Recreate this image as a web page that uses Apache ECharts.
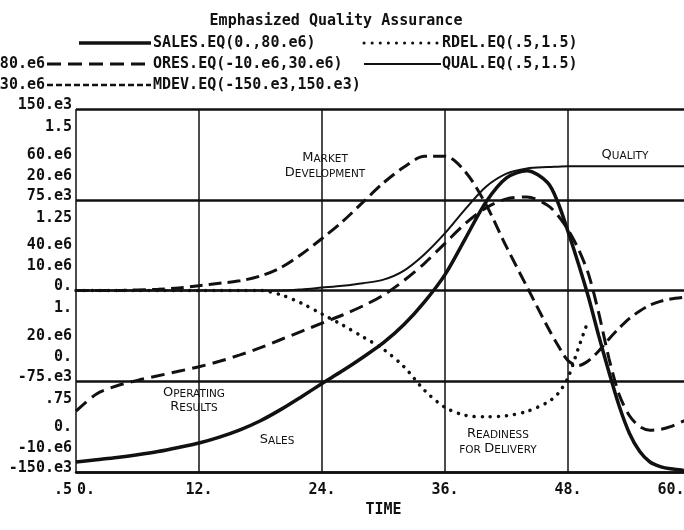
<!DOCTYPE html>
<html lang="en">
<head>
<meta charset="UTF-8">
<title>Emphasized Quality Assurance</title>
<script src="https://cdn.jsdelivr.net/npm/echarts@6/dist/echarts.min.js"></script>
<style>
    html, body { margin: 0; padding: 0; background: #fff; }
    #main { width: 684px; height: 530px; }
</style>
</head>
<body>
<div id="main"></div>
<script type="text/javascript">
    // simulation time (months)
    var time  = [0, 2, 4, 6, 8, 10, 12, 14, 16, 18, 20, 22, 24, 26, 28, 30, 32, 34, 36, 38, 40, 42, 44, 46, 47, 48, 49, 50, 51, 52, 53, 54, 55, 56, 57, 58, 60];

    // SALES  (0 .. 80.e6)
    var sales = [2.2e6, 2.7e6, 3.2e6, 3.8e6, 4.5e6, 5.4e6, 6.4e6, 7.7e6, 9.3e6, 11.3e6, 13.8e6, 16.6e6, 19.5e6, 22.3e6, 25.3e6, 28.5e6, 32.5e6, 37.5e6, 43.5e6, 51.5e6, 59.5e6, 64.8e6, 66.4e6, 63.8e6, 59.5e6, 53e6, 46e6, 38.5e6, 30e6, 22e6, 14.5e6, 8.5e6, 4.5e6, 2.2e6, 1.2e6, 0.7e6, 0.2e6];
    // ORES  operating results (-10.e6 .. 30.e6)
    var ores  = [-3.3e6, -1.4e6, -0.5e6, 0.1e6, 0.6e6, 1.1e6, 1.6e6, 2.2e6, 2.9e6, 3.7e6, 4.6e6, 5.5e6, 6.4e6, 7.3e6, 8.3e6, 9.5e6, 11.1e6, 13e6, 15.2e6, 17.4e6, 19.1e6, 20.1e6, 20.3e6, 19.4e6, 18.3e6, 16.7e6, 14.6e6, 11.8e6, 7.5e6, 2.5e6, -1.5e6, -3.8e6, -5e6, -5.4e6, -5.3e6, -5e6, -4e6];
    // MDEV  market development (-150.e3 .. 150.e3)
    var mdev  = [0, 0, 0, 0.5e3, 1e3, 2e3, 4e3, 6e3, 8e3, 12e3, 19e3, 30e3, 43e3, 57e3, 73e3, 89e3, 102e3, 111e3, 111e3, 98e3, 71e3, 36e3, 3e3, -30e3, -45e3, -58e3, -62e3, -58e3, -50e3, -40e3, -31e3, -23e3, -17e3, -12e3, -9e3, -7e3, -5e3];
    // RDEL  readiness for delivery (.5 .. 1.5), lost behind the falling curves after ~50
    var rdel  = [1, 1, 1, 1, 1, 1, 1, 1, 1, 1, 0.988, 0.965, 0.935, 0.905, 0.872, 0.838, 0.79, 0.725, 0.678, 0.656, 0.652, 0.655, 0.667, 0.692, 0.715, 0.76, 0.84, 0.92, null, null, null, null, null, null, null, null, null];
    // QUAL  quality (.5 .. 1.5)
    var qual  = [1, 1, 1, 1, 1, 1, 1, 1, 1, 1, 1, 1.003, 1.008, 1.013, 1.02, 1.03, 1.055, 1.1, 1.158, 1.225, 1.286, 1.322, 1.336, 1.34, 1.341, 1.342, 1.342, 1.342, 1.342, 1.342, 1.342, 1.342, 1.342, 1.342, 1.342, 1.342, 1.342];

    // tick labels, bottom to top
    var timeTicks  = ['0.', '12.', '24.', '36.', '48.', '60.'];
    var salesTicks = ['0.', '20.e6', '40.e6', '60.e6', '80.e6'];
    var oresTicks  = ['-10.e6', '0.', '10.e6', '20.e6', '30.e6'];
    var mdevTicks  = ['-150.e3', '-75.e3', '0.', '75.e3', '150.e3'];
    var qualTicks  = ['.5', '.75', '1.', '1.25', '1.5'];

    var INK = '#111';
    var MONO = '"DejaVu Sans Mono", "Liberation Mono", monospace';

    function pairs(ys) {
        return time.map(function (t, i) { return [t, ys[i]]; });
    }

    // one stacked label column per scale.
    //   valign 'bottom' + trailing blank line  -> label sits above the grid line
    //   valign 'top' + leading blank line      -> label sits below it
    // lh (line height) sets how far; topShift moves the top label left beside the key
    function yAxis(min, max, interval, ticks, valign, lh, topShift) {
        var before = valign === 'top' ? '\n' : '';
        var after = valign === 'bottom' && lh > 10 ? '\n' : '';
        return {
            type: 'value', position: 'left', offset: 0,
            min: min, max: max, interval: interval,
            axisLine: { show: false },
            axisTick: { show: false },
            splitLine: { show: false },
            axisLabel: {
                margin: 4,
                color: INK,
                fontFamily: MONO,
                fontWeight: 'bold',
                fontSize: 15,
                lineHeight: lh,
                verticalAlign: valign,
                hideOverlap: false,
                showMinLabel: true,
                showMaxLabel: true,
                formatter: function (v, i) {
                    var s = ticks[i];
                    if (topShift && i === ticks.length - 1) s = '{t|' + s + '}';
                    return before + s + after;
                },
                rich: {
                    t: { color: INK, fontFamily: MONO, fontWeight: 'bold', fontSize: 15, lineHeight: lh,
                         padding: [0, topShift || 0, 0, 0] }
                }
            }
        };
    }

    // small caps labels drawn on the plot
    function caps(x, y, str) {
        return {
            type: 'text', x: x, y: y, silent: true,
            style: {
                text: str,
                align: 'center', verticalAlign: 'middle',
                fill: INK,
                rich: {
                    b: { fontFamily: 'DejaVu Sans', fontSize: 13, fill: INK, verticalAlign: 'bottom' },
                    s: { fontFamily: 'DejaVu Sans', fontSize: 10.5, fill: INK, verticalAlign: 'bottom' }
                }
            }
        };
    }

    function legText(x, y, str) {
        return {
            type: 'text', x: x, y: y, silent: true,
            style: { text: str, font: 'bold 15px ' + MONO, fill: INK, align: 'left', verticalAlign: 'middle' }
        };
    }

    function legLine(x1, x2, y, width, dash) {
        return {
            type: 'line', silent: true,
            shape: { x1: x1, y1: y, x2: x2, y2: y },
            style: { stroke: INK, lineWidth: width, lineDash: dash || null, lineCap: dash && dash[0] < 1 ? 'round' : 'butt' }
        };
    }

    var myChart = echarts.init(document.getElementById('main'), null, { renderer: 'canvas' });

    var mdevAxis = yAxis(-150e3, 150e3, 75e3, mdevTicks, 'bottom', 8);
    mdevAxis.splitLine = { show: true, lineStyle: { color: INK, width: 2.5 } };

    myChart.setOption({
        backgroundColor: '#fff',
        animation: false,
        grid: { left: 76, top: 109, width: 615, height: 363, outerBoundsMode: 'none', containLabel: false },
        xAxis: {
            type: 'value', min: 0, max: 60, interval: 12,
            name: 'TIME', nameLocation: 'middle', nameGap: 29,
            nameTextStyle: { color: INK, fontFamily: MONO, fontWeight: 'bold', fontSize: 15 },
            axisLine: { show: true, onZero: false, lineStyle: { color: INK, width: 2.5 } },
            axisTick: { show: false },
            splitLine: { show: true, lineStyle: { color: INK, width: 1.5 } },
            axisLabel: {
                margin: 11,
                color: INK, fontFamily: MONO, fontWeight: 'bold', fontSize: 15,
                formatter: function (v, i) {
                    if (i === 0) return '{f|' + timeTicks[i] + '}';
                    if (i === timeTicks.length - 1) return '{l|' + timeTicks[i] + '}';
                    return timeTicks[i];
                },
                rich: {
                    f: { color: INK, fontFamily: MONO, fontWeight: 'bold', fontSize: 15, padding: [0, 0, 0, 20] },
                    l: { color: INK, fontFamily: MONO, fontWeight: 'bold', fontSize: 15, padding: [0, 40, 0, 0] }
                }
            }
        },
        yAxis: [
            yAxis(0, 80e6, 20e6, salesTicks, 'bottom', 30, 27),
            yAxis(-10e6, 30e6, 10e6, oresTicks, 'bottom', 16, 27),
            mdevAxis,
            yAxis(0.5, 1.5, 0.25, qualTicks, 'top', 12)
        ],
        series: [
            { name: 'SALES', type: 'line', yAxisIndex: 0, data: pairs(sales), smooth: 0.3, showSymbol: false,
              lineStyle: { color: INK, width: 3.5 } },
            { name: 'ORES', type: 'line', yAxisIndex: 1, data: pairs(ores), smooth: 0.3, showSymbol: false,
              lineStyle: { color: INK, width: 3, type: [14, 7] } },
            { name: 'MDEV', type: 'line', yAxisIndex: 2, data: pairs(mdev), smooth: 0.3, showSymbol: false,
              lineStyle: { color: INK, width: 3, type: [13, 6] } },
            { name: 'RDEL', type: 'line', yAxisIndex: 3, data: pairs(rdel), smooth: 0.3, showSymbol: false,
              lineStyle: { color: INK, width: 3.5, type: [0.1, 8], cap: 'round' } },
            { name: 'QUAL', type: 'line', yAxisIndex: 3, data: pairs(qual), smooth: 0.3, showSymbol: false,
              lineStyle: { color: INK, width: 2 } }
        ],
        graphic: [
            { type: 'text', x: 336, y: 21, silent: true,
              style: { text: 'Emphasized Quality Assurance', font: 'bold 15px ' + MONO, fill: INK, align: 'center', verticalAlign: 'middle' } },
            legLine(79, 151, 43, 3.5),
            legText(153, 43, 'SALES.EQ(0.,80.e6)'),
            legLine(47, 151, 64, 3, [14, 7]),
            legText(153, 64, 'ORES.EQ(-10.e6,30.e6)'),
            legLine(47, 151, 85, 2.5, [6, 3]),
            legText(153, 85, 'MDEV.EQ(-150.e3,150.e3)'),
            legLine(364, 441, 43, 3, [0.1, 8]),
            legText(442, 43, 'RDEL.EQ(.5,1.5)'),
            legLine(364, 441, 64, 2),
            legText(442, 64, 'QUAL.EQ(.5,1.5)'),

            caps(325, 158, '{b|M}{s|ARKET}'),
            caps(325, 173, '{b|D}{s|EVELOPMENT}'),
            caps(194, 393, '{b|O}{s|PERATING}'),
            caps(194, 407, '{b|R}{s|ESULTS}'),
            caps(277, 440, '{b|S}{s|ALES}'),
            caps(498, 434, '{b|R}{s|EADINESS}'),
            caps(498, 449, '{s|FOR }{b|D}{s|ELIVERY}'),
            caps(625, 155, '{b|Q}{s|UALITY}')
        ]
    });
</script>
</body>
</html>
